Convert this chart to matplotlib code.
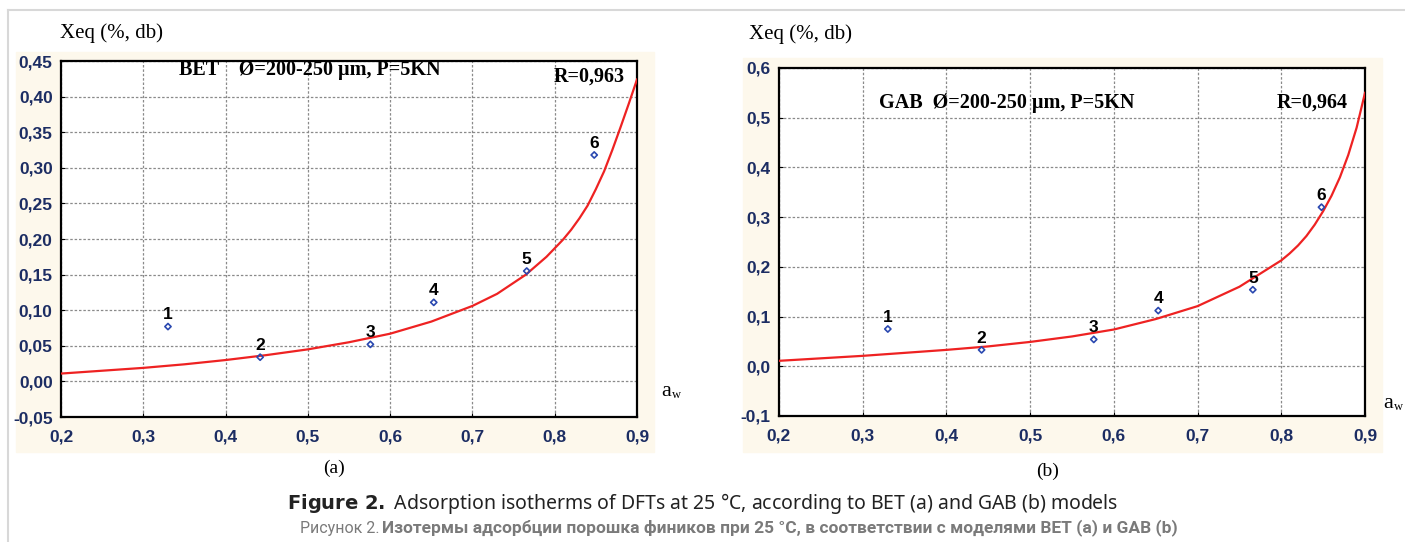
import matplotlib
matplotlib.use("Agg")
import matplotlib.pyplot as plt
from matplotlib.patches import Rectangle
from matplotlib.lines import Line2D

# experimental points (same samples in both panels)
aw_pts = [0.330, 0.442, 0.576, 0.653, 0.766, 0.848]
bet_pts = [0.077, 0.034, 0.052, 0.111, 0.155, 0.318]
gab_pts = [0.075, 0.033, 0.054, 0.112, 0.154, 0.320]
pt_labels = ["1", "2", "3", "4", "5", "6"]

# fitted curves
bet_aw = [0.20, 0.25, 0.30, 0.35, 0.40, 0.45, 0.50, 0.55, 0.60, 0.65, 0.70, 0.73, 0.765,
          0.79, 0.80, 0.81, 0.82, 0.83, 0.84, 0.85, 0.86, 0.87, 0.88, 0.89, 0.90]
bet_x = [0.011, 0.015, 0.019, 0.024, 0.030, 0.037, 0.045, 0.055, 0.067, 0.084, 0.106, 0.123, 0.150,
         0.175, 0.187, 0.199, 0.213, 0.229, 0.247, 0.270, 0.295, 0.325, 0.357, 0.390, 0.424]
gab_aw = [0.20, 0.25, 0.30, 0.35, 0.40, 0.45, 0.50, 0.55, 0.60, 0.65, 0.70, 0.75, 0.80,
          0.81, 0.82, 0.83, 0.84, 0.85, 0.86, 0.87, 0.88, 0.89, 0.90]
gab_x = [0.011, 0.016, 0.021, 0.027, 0.033, 0.040, 0.049, 0.060, 0.074, 0.095, 0.121, 0.160, 0.213,
         0.227, 0.243, 0.262, 0.285, 0.312, 0.343, 0.380, 0.425, 0.480, 0.550]

navy = "#1c2d63"
cream = "#fdf8ec"

fig = plt.figure(figsize=(14.05, 5.42), dpi=100)

# page frame lines
fig.add_artist(Line2D([8/1405, 1], [1-10/542, 1-10/542], color="#d8d8d8", lw=1.5))
fig.add_artist(Line2D([8/1405, 8/1405], [1-10/542, 0], color="#d8d8d8", lw=1.5))

# cream panels behind the plots
fig.add_artist(Rectangle((16/1405, 1-452/542), 638/1405, 400/542, color=cream, zorder=0))
fig.add_artist(Rectangle((743/1405, 1-452/542), 639/1405, 394/542, color=cream, zorder=0))


def panel(rect, xs, ys, pts, ylim, yticks, yfmt, title_txt, r_txt, title_pos, r_pos):
    ax = fig.add_axes(rect)
    ax.set_facecolor("white")
    ax.plot(xs, ys, color="#ee2222", lw=1.6, zorder=3)
    ax.scatter(aw_pts, pts, marker="D", s=10, facecolor="none", edgecolor="#2a48b0",
               lw=1.2, zorder=4)
    for x, y, t in zip(aw_pts, pts, pt_labels):
        ax.annotate(t, (x, y), xytext=(0, 3), textcoords="offset points", ha="center",
                    va="bottom", fontsize=12.5, fontweight="bold", color="black",
                    family="Liberation Sans", zorder=5)
    ax.set_xlim(0.2, 0.9)
    ax.set_ylim(*ylim)
    xt = [0.2, 0.3, 0.4, 0.5, 0.6, 0.7, 0.8, 0.9]
    ax.set_xticks(xt)
    ax.set_xticklabels([("%.1f" % v).replace(".", ",") for v in xt])
    ax.set_yticks(yticks)
    ax.set_yticklabels([(yfmt % v).replace(".", ",") for v in yticks])
    ax.grid(True, color="#8a8a8a", ls=(0, (2, 1.5)), lw=0.9)
    ax.tick_params(direction="in", length=3, labelsize=12.5, labelcolor=navy)
    ax.tick_params(axis="x", pad=9)
    ax.tick_params(axis="y", pad=6)
    for lab in ax.get_xticklabels() + ax.get_yticklabels():
        lab.set_fontweight("bold")
        lab.set_family("Liberation Sans")
    for s in ax.spines.values():
        s.set_color("black")
        s.set_linewidth(1.6)
    ax.text(title_pos[0], title_pos[1], title_txt, transform=ax.transAxes,
            family="Liberation Serif", fontweight="bold", fontsize=14.5, va="center")
    ax.text(r_pos[0], r_pos[1], r_txt, transform=ax.transAxes,
            family="Liberation Serif", fontweight="bold", fontsize=14.5, va="center")
    return ax


panel([61/1405, 1-417/542, 576/1405, 356/542], bet_aw, bet_x, bet_pts, (-0.05, 0.45),
      [-0.05, 0, 0.05, 0.10, 0.15, 0.20, 0.25, 0.30, 0.35, 0.40, 0.45], "%.2f",
      "BET    \u00d8=200-250 \u00b5m, P=5KN", "R=0,963", (0.205, 0.975), (0.855, 0.955))
panel([779/1405, 1-416/542, 586/1405, 348/542], gab_aw, gab_x, gab_pts, (-0.1, 0.6),
      [-0.1, 0.0, 0.1, 0.2, 0.3, 0.4, 0.5, 0.6], "%.1f",
      "GAB  \u00d8=200-250 \u00b5m, P=5KN", "R=0,964", (0.17, 0.9), (0.85, 0.9))

# axis titles
fig.text(60/1405, 1-33/542, "Xeq (%, db)", family="Liberation Serif", fontsize=15, va="center")
fig.text(749/1405, 1-34/542, "Xeq (%, db)", family="Liberation Serif", fontsize=15, va="center")
fig.text(661/1405, 1-391/542, "a", family="Liberation Serif", fontsize=16, va="center")
fig.text(672/1405, 1-395/542, "w", family="Liberation Serif", fontsize=9, va="center")
fig.text(1383/1405, 1-403/542, "a", family="Liberation Serif", fontsize=16, va="center")
fig.text(1394/1405, 1-407/542, "w", family="Liberation Serif", fontsize=9, va="center")

# panel letters and caption
fig.text(334/1405, 1-468/542, "(a)", family="Liberation Serif", fontsize=14, ha="center", va="center")
fig.text(1048/1405, 1-471/542, "(b)", family="Liberation Serif", fontsize=14, ha="center", va="center")
fig.text(0.5, 1-503/542, r"$\bf{Figure\ 2.}$ Adsorption isotherms of DFTs at 25 °C, according to BET (a) and GAB (b) models",
         family="Noto Sans", fontsize=14, ha="center", va="center", color="#222222")
fig.text(300/1405, 1-528/542, "Рисунок 2.", family="Roboto", fontsize=11.5,
         ha="left", va="center", color="#7a7a7a")
fig.text(382/1405, 1-528/542,
         "Изотермы адсорбции порошка фиников при 25 °C, в соответствии с моделями BET (a) и GAB (b)",
         family="Roboto", fontsize=12.5, fontweight="bold", ha="left", va="center", color="#7a7a7a")

fig.savefig("out.png", dpi=100)
